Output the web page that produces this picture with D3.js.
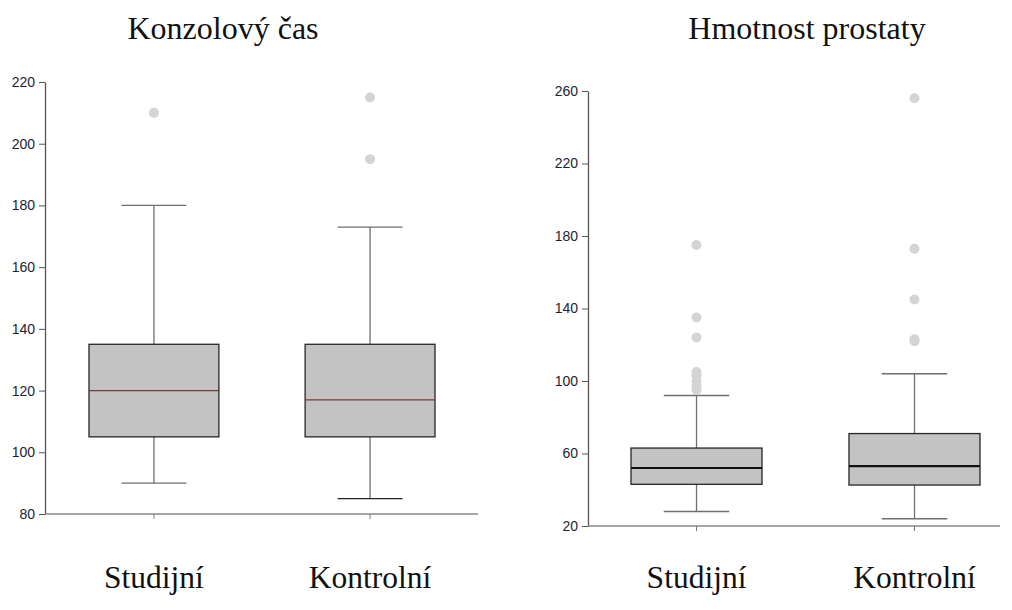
<!DOCTYPE html>
<html><head><meta charset="utf-8">
<script src="https://cdn.jsdelivr.net/npm/d3@7"></script>
<style>body{margin:0;background:#fff}svg{display:block}</style>
</head><body>
<script>
// Data
const categories = ["Studijní", "Kontrolní"];
const titles = ["Konzolový čas", "Hmotnost prostaty"];
// Left chart: Konzolový čas
const timeWhiskerLow = [90, 85];
const timeQ1 = [105, 105];
const timeMedian = [120, 117];
const timeQ3 = [135, 135];
const timeWhiskerHigh = [180, 173];
const timeOutliers = [[210], [195, 215]];
const timeTicks = [80, 100, 120, 140, 160, 180, 200, 220];
// Right chart: Hmotnost prostaty
const massWhiskerLow = [28, 24];
const massQ1 = [43, 42.6];
const massMedian = [52, 53];
const massQ3 = [63, 71];
const massWhiskerHigh = [92, 104];
const massOutliers = [[95, 97, 100, 103, 105, 124, 135, 175], [122, 123, 145, 173, 256]];
const massTicks = [20, 60, 100, 140, 180, 220, 260];

const W = 1012, H = 610;
const svg = d3.select("body").append("svg").attr("width", W).attr("height", H);

function drawPanel(cfg) {
  const g = svg.append("g");
  const y = d3.scaleLinear().domain(cfg.domain).range([cfg.bottom, cfg.top]);
  const x = d3.scaleBand().domain(categories).range([cfg.boxL, cfg.boxR]).paddingInner(0.399).paddingOuter(0);
  const bw = x.bandwidth();

  // title
  g.append("text").attr("x", cfg.titleX).attr("y", 39).attr("text-anchor", "middle")
    .attr("font-family", "'Liberation Serif','Times New Roman',serif").attr("font-size", 32)
    .attr("fill", "#111").text(cfg.title);

  // y axis
  const ya = g.append("g").attr("transform", `translate(${cfg.left},0)`)
    .call(d3.axisLeft(y).tickValues(cfg.ticks).tickSize(6).tickSizeOuter(0).tickPadding(4));
  ya.select(".domain").attr("stroke", "#555").attr("stroke-width", 1.3);
  ya.selectAll(".tick line").attr("stroke", "#555");
  ya.selectAll(".tick text").attr("font-family", "'Liberation Sans',Arial,sans-serif")
    .attr("font-size", 14).attr("fill", "#1c2333");

  // x axis
  const xa = g.append("g").attr("transform", `translate(0,${cfg.bottom})`)
    .call(d3.axisBottom(x).tickSize(5).tickSizeOuter(0).tickFormat(""));
  xa.select(".domain").attr("d", `M${cfg.left},0H${cfg.axisEnd}`).attr("stroke", "#888").attr("stroke-width", 1.5);
  xa.selectAll(".tick line").attr("stroke", "#777");

  // category labels
  g.selectAll(".cat").data(categories).join("text")
    .attr("x", d => x(d) + bw / 2).attr("y", 588).attr("text-anchor", "middle")
    .attr("font-family", "'Liberation Serif','Times New Roman',serif").attr("font-size", 31.5)
    .attr("fill", "#111").text(d => d);

  categories.forEach((c, i) => {
    const cx = x(c) + bw / 2;
    // whiskers
    g.append("line").attr("x1", cx).attr("x2", cx).attr("y1", y(cfg.q3[i])).attr("y2", y(cfg.wh[i]))
      .attr("stroke", "#6e6e6e").attr("stroke-width", 1.3);
    g.append("line").attr("x1", cx).attr("x2", cx).attr("y1", y(cfg.q1[i])).attr("y2", y(cfg.wl[i]))
      .attr("stroke", "#6e6e6e").attr("stroke-width", 1.3);
    g.append("line").attr("x1", cx - bw / 4).attr("x2", cx + bw / 4).attr("y1", y(cfg.wh[i])).attr("y2", y(cfg.wh[i]))
      .attr("stroke", "#6e6e6e").attr("stroke-width", 1.3);
    g.append("line").attr("x1", cx - bw / 4).attr("x2", cx + bw / 4).attr("y1", y(cfg.wl[i])).attr("y2", y(cfg.wl[i]))
      .attr("stroke", i === 1 && cfg.darkLow ? "#222" : "#6e6e6e").attr("stroke-width", 1.3);
    // box
    g.append("rect").attr("x", x(c)).attr("width", bw)
      .attr("y", y(cfg.q3[i])).attr("height", y(cfg.q1[i]) - y(cfg.q3[i]))
      .attr("fill", "#c3c3c3").attr("stroke", "#2a2424").attr("stroke-width", 1.3);
    // median
    g.append("line").attr("x1", x(c)).attr("x2", x(c) + bw).attr("y1", y(cfg.med[i])).attr("y2", y(cfg.med[i]))
      .attr("stroke", cfg.medColor).attr("stroke-width", cfg.medWidth);
    // outliers
    g.selectAll(null).data(cfg.out[i]).join("circle")
      .attr("cx", cx).attr("cy", d => y(d)).attr("r", 5).attr("fill", "#d4d4d4");
  });
}

drawPanel({
  title: titles[0], titleX: 223, domain: [80, 220], top: 82, bottom: 514, left: 45, boxL: 89, boxR: 435, axisEnd: 478,
  ticks: timeTicks, wl: timeWhiskerLow, q1: timeQ1, med: timeMedian, q3: timeQ3, wh: timeWhiskerHigh,
  out: timeOutliers, medColor: "#7a3a3a", medWidth: 1.2, darkLow: true
});
drawPanel({
  title: titles[1], titleX: 807, domain: [20, 260], top: 91, bottom: 526, left: 588, boxL: 631, boxR: 980, axisEnd: 1000,
  ticks: massTicks, wl: massWhiskerLow, q1: massQ1, med: massMedian, q3: massQ3, wh: massWhiskerHigh,
  out: massOutliers, medColor: "#111", medWidth: 2.2, darkLow: false
});
</script>
</body></html>
